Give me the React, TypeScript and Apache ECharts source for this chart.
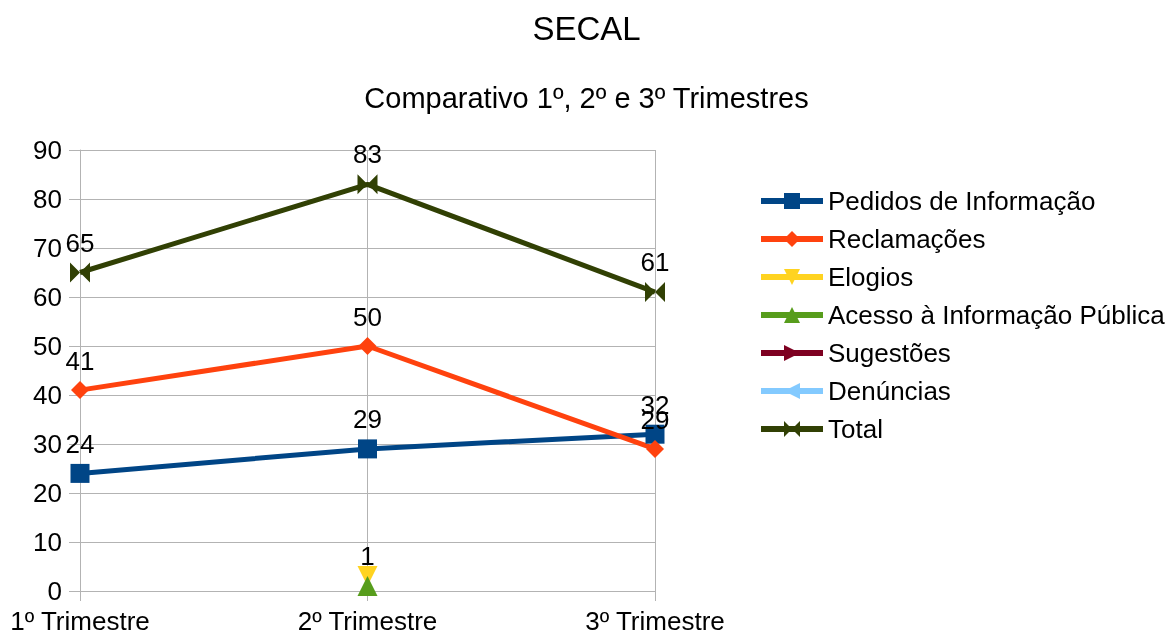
import React, { useEffect, useRef } from "react";
import * as echarts from "echarts";

const categories = ["1º Trimestre", "2º Trimestre", "3º Trimestre"];
const pedidos = [24, 29, 32];
const reclamacoes = [41, 50, 29];
const elogios = [null, 1, null];
const acesso = [null, 1, null];
const sugestoes = [null, null, null];
const denuncias = [null, null, null];
const total = [65, 83, 61];

const FONT = "Liberation Sans";
const bowtie = "path://M0,0 L10,5 L0,10 Z M20,0 L10,5 L20,10 Z";
const rightArrow = "path://M0,0 L10,5 L0,10 Z";
const leftArrow = "path://M10,0 L0,5 L10,10 Z";
const downTri = "path://M0,0 L10,0 L5,10 Z";

export default function App() {
  const ref = useRef<HTMLDivElement>(null);
  useEffect(() => {
    const chart = echarts.init(ref.current!, null, { renderer: "svg" });
    const label = {
      show: true,
      position: "top",
      distance: 7,
      color: "#000",
      fontSize: 26,
      fontFamily: FONT,
    };
    const mk = (name: string, data: any[], color: string, symbol: string, size: any, extra: any = {}) => ({
      name,
      type: "line",
      data,
      symbol,
      symbolSize: size,
      showAllSymbol: true,
      connectNulls: false,
      lineStyle: { color, width: 5 },
      itemStyle: { color },
      label,
      ...extra,
    });
    chart.setOption({
      animation: false,
      textStyle: { fontFamily: FONT, color: "#000" },
      title: [
        { text: "SECAL", left: "center", top: 7, textStyle: { fontSize: 33, fontWeight: "normal", color: "#000", fontFamily: FONT } },
        { text: "Comparativo 1º, 2º e 3º Trimestres", left: "center", top: 78, textStyle: { fontSize: 29, fontWeight: "normal", color: "#000", fontFamily: FONT } },
      ],
      grid: { left: 80, right: 518, top: 150, bottom: 47, containLabel: false },
      legend: {
        orient: "vertical",
        left: 753,
        top: 183,
        itemWidth: 62,
        itemHeight: 20,
        itemGap: 12,
        lineStyle: { width: 6 },
        textStyle: { fontSize: 26, color: "#000", fontFamily: FONT },
        data: ["Pedidos de Informação", "Reclamações", "Elogios", "Acesso à Informação Pública", "Sugestões", "Denúncias", "Total"],
      },
      xAxis: {
        type: "category",
        data: categories,
        boundaryGap: false,
        axisLine: { lineStyle: { color: "#b3b3b3" } },
        axisTick: { show: true, length: 10, lineStyle: { color: "#b3b3b3" } },
        splitLine: { show: true, lineStyle: { color: "#b3b3b3" } },
        axisLabel: { color: "#000", fontSize: 26, fontFamily: FONT, margin: 17 },
      },
      yAxis: {
        type: "value",
        min: 0,
        max: 90,
        interval: 10,
        axisLine: { show: true, lineStyle: { color: "#b3b3b3" } },
        axisTick: { show: true, length: 11, lineStyle: { color: "#b3b3b3" } },
        splitLine: { show: true, lineStyle: { color: "#b3b3b3" } },
        axisLabel: { color: "#000", fontSize: 26, fontFamily: FONT, margin: 18 },
      },
      series: [
        mk("Pedidos de Informação", pedidos, "#004586", "rect", 19),
        mk("Reclamações", reclamacoes, "#ff420e", "diamond", 18),
        mk("Elogios", elogios, "#ffd320", downTri, 20, { symbolOffset: [0, -10], label: { show: false } }),
        mk("Acesso à Informação Pública", acesso, "#579d1c", "triangle", 20),
        mk("Sugestões", sugestoes, "#7e0021", rightArrow, 18),
        mk("Denúncias", denuncias, "#83caff", leftArrow, 18),
        mk("Total", total, "#314004", bowtie, 20),
      ],
    });
    return () => chart.dispose();
  }, []);
  return <div ref={ref} style={{ position: "fixed", left: 0, top: 0, width: 1173, height: 638 }} />;
}
